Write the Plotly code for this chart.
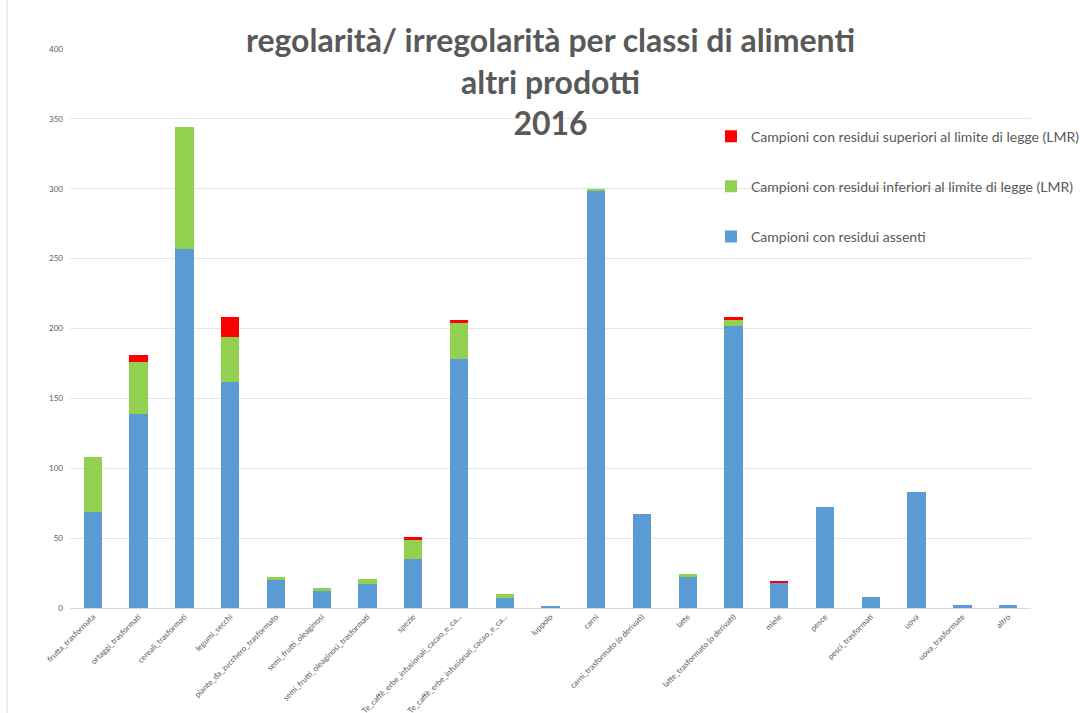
import plotly.graph_objects as go

categories = [
    "frutta_trasformata", "ortaggi_trasformati", "cereali_trasformati", "legumi_secchi",
    "piante_da_zucchero_trasformato", "semi_frutti_oleaginosi", "semi_frutti_oleaginosi_trasformati",
    "spezie", "Te_caffè_erbe_infusionali_cacao_e_ca...", "Te_caffè_erbe_infusionali_cacao_e_ca...",
    "luppolo", "carni", "carni_trasformato (o derivati)", "latte", "latte_trasformato (o derivati)",
    "miele", "pesce", "pesci_trasformati", "uova", "uova_trasformate", "altro",
]
assenti = [69, 139, 257, 162, 20, 12, 17, 35, 178, 7, 1, 299, 67, 22, 202, 18, 72, 8, 83, 2, 2]
inferiori = [39, 37, 87, 32, 2, 2, 4, 14, 26, 3, 0, 1, 0, 2, 4, 0, 0, 0, 0, 0, 0]
superiori = [0, 5, 0, 14, 0, 0, 0, 2, 2, 0, 0, 0, 0, 0, 2, 1, 0, 0, 0, 0, 0]
y_ticks = [0, 50, 100, 150, 200, 250, 300, 350, 400]

title_lines = ["regolarità/ irregolarità per classi di alimenti", "altri prodotti", "2016"]
series_names = [
    "Campioni con residui assenti",
    "Campioni con residui inferiori al limite di legge (LMR)",
    "Campioni con residui superiori al limite di legge (LMR)",
]
colors = ["#5b9bd5", "#92d050", "#ff0000"]
legend_ranks = [3, 2, 1]

x = list(range(len(categories)))
fig = go.Figure()
for i, (name, vals, col) in enumerate(zip(series_names, [assenti, inferiori, superiori], colors)):
    fig.add_trace(go.Bar(
        x=x, y=vals, name=name, marker=dict(color=col, line=dict(width=0)),
        legendgroup=f"g{i}", legendrank=legend_ranks[i],
    ))

fig.update_layout(
    barmode="stack",
    bargap=0.6,
    width=1080, height=713,
    paper_bgcolor="white", plot_bgcolor="white",
    margin=dict(l=70, r=49, t=49, b=105, autoexpand=False),
    font=dict(family="Lato", color="#595959"),
    title=dict(
        text="<br>".join(title_lines),
        x=0.5, xanchor="center", xref="paper",
        y=1 - 52 / 713, yanchor="middle", yref="container",
        font=dict(family="Lato", size=32, color="#595959", weight="bold"),
    ),
    legend=dict(
        x=0.667, y=0.872, xanchor="left", yanchor="top",
        traceorder="grouped", tracegroupgap=29,
        font=dict(family="Lato", size=14, color="#595959"),
        bgcolor="rgba(0,0,0,0)", itemwidth=30,
    ),
    showlegend=True,
)
fig.update_xaxes(
    tickmode="array", tickvals=x, ticktext=categories,
    tickangle=-45, tickfont=dict(size=8, color="#595959"),
    showline=True, linecolor="#d9d9d9", linewidth=1,
    showgrid=False, ticks="", range=[-0.5, len(categories) - 0.5],
    automargin=False,
)
fig.update_yaxes(
    range=[0, 400], tickvals=y_ticks, tickfont=dict(size=8, color="#595959"),
    showgrid=True, gridcolor="#e5e5e5", gridwidth=1, zeroline=False, showline=False,
    ticks="", ticklabelstandoff=6, automargin=False,
)
fig.add_shape(type="line", xref="paper", yref="paper",
              x0=-0.0656, x1=-0.0656, y0=-0.188, y1=1.088,
              line=dict(color="#d9d9d9", width=1))

fig.write_html(
    "out.html",
    config={"displayModeBar": False},
    post_script="document.body.style.margin='0';document.body.style.overflow='hidden';",
)
